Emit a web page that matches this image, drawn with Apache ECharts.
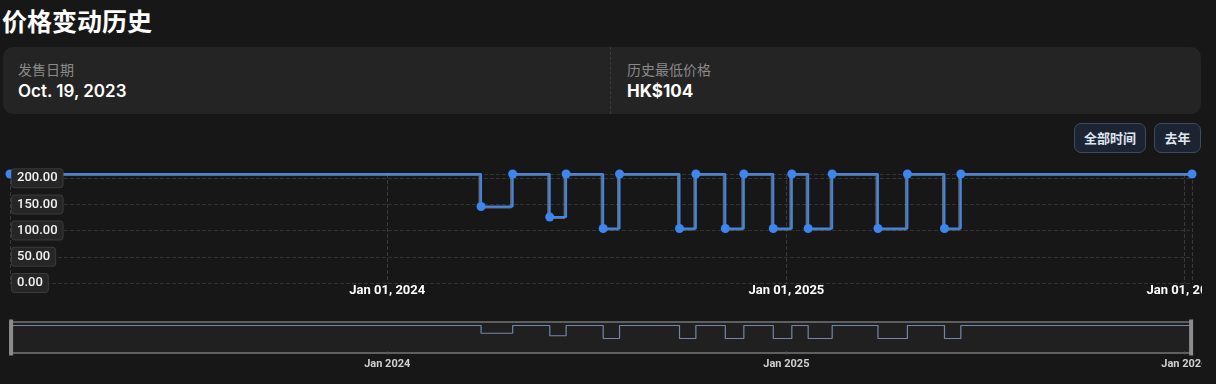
<!DOCTYPE html>
<html><head><meta charset="utf-8">
<script src="https://cdn.jsdelivr.net/npm/echarts@6/dist/echarts.min.js"></script>
<style>
html,body{margin:0;padding:0;background:#171717;width:1216px;height:384px;overflow:hidden;font-family:Inter,"Noto Sans CJK SC",sans-serif;}
.title{position:absolute;left:2px;top:3px;font-size:25px;font-weight:700;color:#fff;line-height:34px;font-family:"Noto Sans CJK SC",sans-serif;}
.card{position:absolute;left:3px;top:47px;width:1198px;height:67px;background:#242424;border-radius:10px;}
.lbl{position:absolute;top:12px;font-size:14px;color:#8a8a8a;line-height:20px;font-family:"Noto Sans CJK SC",sans-serif;white-space:nowrap}
.val{position:absolute;top:33px;font-size:17px;font-weight:600;color:#fff;line-height:22px;white-space:nowrap;font-family:Inter,sans-serif}
.sep{position:absolute;left:607px;top:0;height:67px;border-left:1px dashed #3c3c3c;}
.btn{position:absolute;top:123px;height:30px;box-sizing:border-box;border:1px solid #3e4a5e;background:#1c2434;border-radius:7px;color:#dfe6f0;font-size:13px;font-weight:700;line-height:28px;text-align:center;font-family:"Noto Sans CJK SC",sans-serif;}
#chart{position:absolute;left:0;top:160px;width:1202px;height:224px;}
</style>
</head><body>
<div class="title">价格变动历史</div>
<div class="card">
  <div class="lbl" style="left:15px">发售日期</div>
  <div class="val" style="left:15px">Oct. 19, 2023</div>
  <div class="sep"></div>
  <div class="lbl" style="left:624px">历史最低价格</div>
  <div class="val" style="left:624px;font-weight:700">HK$104</div>
</div>
<div class="btn" style="left:1074px;width:72px">全部时间</div>
<div class="btn" style="left:1154px;width:47px">去年</div>
<div id="chart"></div>
<script>
// ---- data ----
const dates = ['2023-01-20','2024-03-27','2024-04-25','2024-05-29','2024-06-13','2024-07-17','2024-08-01','2024-09-25','2024-10-10','2024-11-06','2024-11-23','2024-12-20','2025-01-06','2025-01-21','2025-02-12','2025-03-26','2025-04-22','2025-05-26','2025-06-10','2026-01-08'];
const prices = [208,146,208,126,208,104,208,104,208,104,208,104,208,104,208,104,208,104,208,208];
const monthNames = ['Jan','Feb','Mar','Apr','May','Jun','Jul','Aug','Sep','Oct','Nov','Dec'];
const yMin = 0, yMax = 208, yInterval = 50;

const YEAR = 365 * 24 * 3600 * 1000;
const FONT = 'Roboto';
const seriesData = dates.map((d, i) => [d, prices[i]]);
function pad(n){return n < 10 ? '0' + n : '' + n;}
function isYearStart(v){const d = new Date(v); return d.getMonth() === 0 && d.getDate() === 1;}
function fullLabel(v){const d = new Date(v); return isYearStart(v) ? monthNames[d.getMonth()] + ' ' + pad(d.getDate()) + ', ' + d.getFullYear() : '';}
function shortLabel(v){const d = new Date(v); return isYearStart(v) ? monthNames[d.getMonth()] + ' ' + d.getFullYear() : '';}

const chart = echarts.init(document.getElementById('chart'));
chart.setOption({
  animation: false,
  backgroundColor: 'transparent',
  grid: [
    {left: 10, right: 10, top: 14, height: 109, outerBoundsMode: 'none', containLabel: false},
    {left: 10, right: 10, top: 162, height: 31, outerBoundsMode: 'none', containLabel: false, show: true, backgroundColor: '#1e1e1e', borderColor: '#5e5e5e', borderWidth: 2}
  ],
  xAxis: [
    {type: 'time', gridIndex: 0, min: 'dataMin', max: 'dataMax', minInterval: YEAR,
     axisLine: {show: false}, axisTick: {show: false},
     splitLine: {show: true, lineStyle: {color: '#3a3a3a', type: 'dashed'}},
     axisLabel: {formatter: fullLabel, color: '#ffffff', fontWeight: 'bold', fontSize: 13, fontFamily: FONT, margin: 1, hideOverlap: false}},
    {type: 'time', gridIndex: 1, min: 'dataMin', max: 'dataMax', minInterval: YEAR,
     axisLine: {show: false},
     axisTick: {show: true, length: 4, lineStyle: {color: '#555', type: 'dotted'}},
     splitLine: {show: false},
     axisLabel: {formatter: shortLabel, color: '#d0d0d0', fontWeight: 'bold', fontSize: 11, fontFamily: FONT, margin: 6, hideOverlap: false}}
  ],
  yAxis: [
    {type: 'value', gridIndex: 0, position: 'left', min: yMin, max: yMax, interval: yInterval,
     axisLine: {show: false}, axisTick: {show: false}, axisLabel: {show: false},
     splitLine: {show: true, lineStyle: {color: '#333333', type: 'dashed'}}},
    {type: 'value', gridIndex: 0, position: 'left', min: yMin, max: yMax, interval: yInterval, z: 5,
     axisLine: {show: false}, axisTick: {show: false}, splitLine: {show: false},
     axisLabel: {inside: true, showMaxLabel: false, margin: 2, formatter: v => v.toFixed(2),
       color: '#f2f2f2', fontSize: 13, fontWeight: 500, fontFamily: FONT,
       backgroundColor: '#262626', borderColor: '#3a3a3a', borderWidth: 1, borderRadius: 3, padding: [3, 5, 2, 5]}},
    {type: 'value', gridIndex: 1, min: -12, max: 236, show: false}
  ],
  dataZoom: [
    {type: 'slider', xAxisIndex: 0, filterMode: 'none', left: 10, right: 10, top: 162, height: 31,
     showDetail: false, showDataShadow: false, brushSelect: false, moveHandleSize: 0,
     backgroundColor: 'transparent', borderColor: 'transparent', fillerColor: 'rgba(255,255,255,0.01)',
     handleIcon: 'path://M0,0 L4,0 L4,36 L0,36 Z', handleSize: '116%',
     handleStyle: {color: '#8c8c8c', borderWidth: 0}, z: 10}
  ],
  series: [
    {type: 'line', xAxisIndex: 0, yAxisIndex: 0, data: seriesData, step: 'end',
     symbol: 'circle', symbolSize: 9, showAllSymbol: true, z: 3,
     itemStyle: {color: '#3d86ee'},
     lineStyle: {color: '#3d86ee', width: 2, shadowColor: 'rgba(150,150,150,0.65)', shadowOffsetX: -1.5, shadowOffsetY: 1, shadowBlur: 0}},
    {type: 'line', xAxisIndex: 1, yAxisIndex: 2, data: seriesData, step: 'end', symbol: 'none', silent: true,
     lineStyle: {color: '#6f86aa', width: 1.2}}
  ]
});
</script>
</body></html>
